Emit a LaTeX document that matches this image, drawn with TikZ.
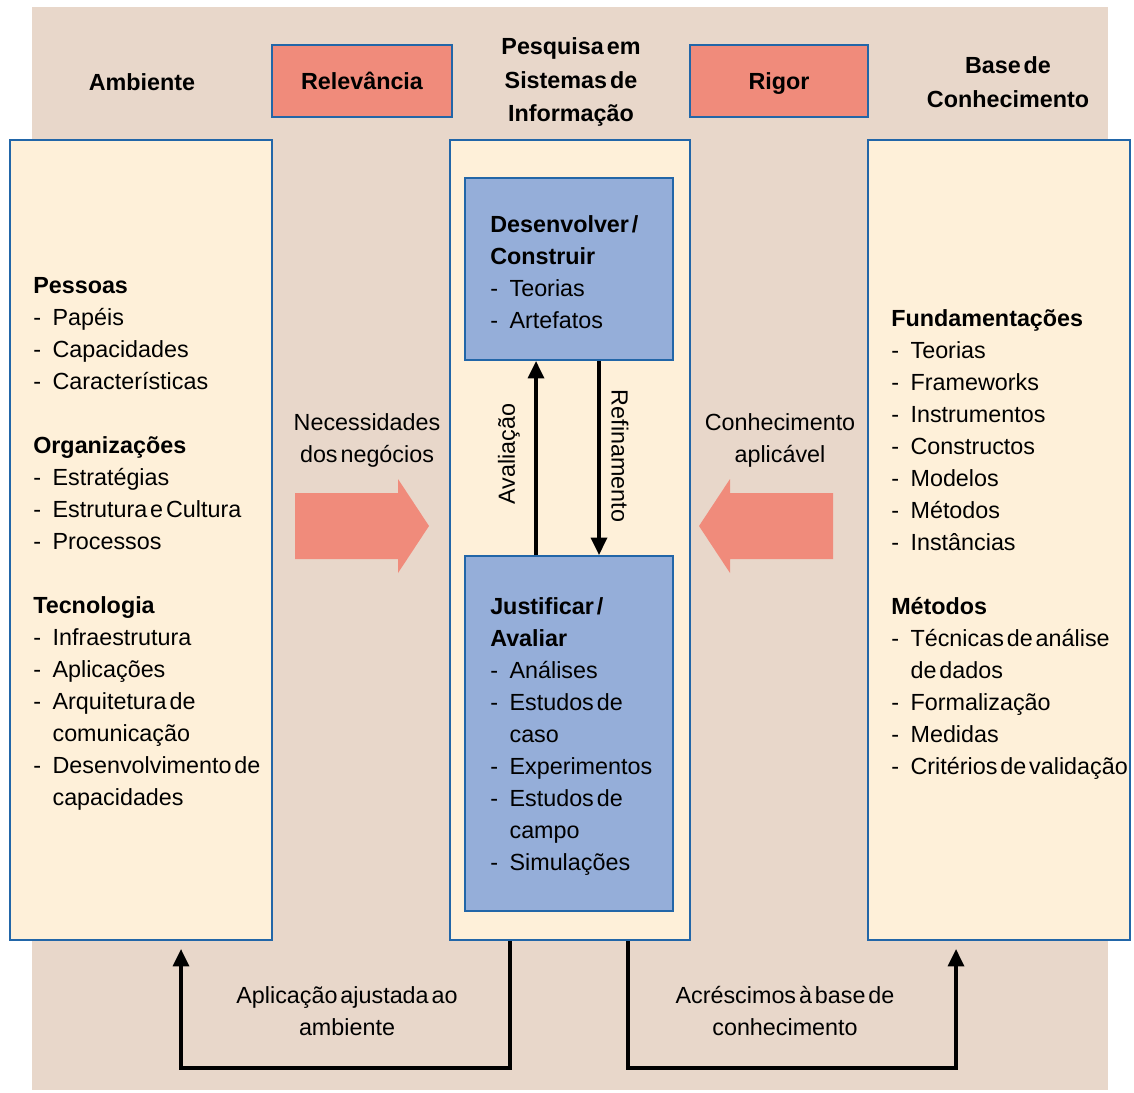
\documentclass[tikz,border=0pt]{standalone}
\usepackage{fontspec}
\setmainfont[WordSpace=0.45]{Liberation Sans}
\usetikzlibrary{arrows.meta}

\definecolor{fundo}{HTML}{E8D7CA}
\definecolor{creme}{HTML}{FEF0D9}
\definecolor{azul}{HTML}{95AED9}
\definecolor{borda}{HTML}{2266A8}
\definecolor{salmao}{HTML}{F08B7B}

\newcommand{\itm}[1]{\makebox[14.5pt][l]{-}#1}
\newcommand{\cnt}[1]{\hspace*{14.5pt}#1}

\begin{document}
\begin{tikzpicture}[x=0.75pt, y=-0.75pt,
    every node/.style={font=\fontsize{17.5}{24}\selectfont},
    painel/.style={draw=borda, line width=1.5pt, fill=creme, minimum width=196.5pt, minimum height=600pt, inner sep=0pt},
    bloco/.style={draw=borda, line width=1.5pt, fill=azul, minimum width=156pt, inner sep=0pt},
    selo/.style={draw=borda, line width=1.5pt, fill=salmao, minimum height=54pt, inner sep=0pt, text height=13pt, text depth=1pt, font=\fontsize{17.5}{24}\selectfont\bfseries},
    txt/.style={inner sep=0pt, align=left, anchor=north west},
    titulo/.style={inner sep=0pt, align=center, font=\fontsize{17.5}{25}\selectfont\bfseries},
    fluxo/.style={line width=2.5pt, -{Triangle[length=13pt,width=12pt]}}]

    \useasboundingbox (0,0) rectangle (1134,1092);
    \fill[fundo] (32,7) rectangle (1108,1090);

    % Titles
    \node[titulo] (ambtit) at (142,82) {Ambiente};
    \node[titulo] (pesqtit) at (571,82) {Pesquisa em\\Sistemas de\\Informação};
    \node[titulo] (basetit) at (1008,82) {Base de\\Conhecimento};
    \node[selo, minimum width=135pt] (relev) at (362,81) {Relevância};
    \node[selo, minimum width=133.5pt] (rigor) at (779,81) {Rigor};

    % Panels
    \node[painel] (amb) at (141,540) {};
    \node[painel, minimum width=180pt] (pesq) at (570,540) {};
    \node[painel] (base) at (999,540) {};
    \node[bloco, minimum height=136.5pt] (dev) at (569,269) {};
    \node[bloco, minimum height=266.25pt] (just) at (569,733.5) {};

    % Panel texts
    \node[txt] (ambtxt) at (33,277) {\textbf{Pessoas}\\ \itm{Papéis}\\ \itm{Capacidades}\\ \itm{Características}\\[24pt]
        \textbf{Organizações}\\ \itm{Estratégias}\\ \itm{Estrutura e Cultura}\\ \itm{Processos}\\[24pt]
        \textbf{Tecnologia}\\ \itm{Infraestrutura}\\ \itm{Aplicações}\\ \itm{Arquitetura de}\\ \cnt{comunicação}\\
        \itm{Desenvolvimento de}\\ \cnt{capacidades}};
    \node[txt] (basetxt) at (891,309) {\textbf{Fundamentações}\\ \itm{Teorias}\\ \itm{Frameworks}\\ \itm{Instrumentos}\\
        \itm{Constructos}\\ \itm{Modelos}\\ \itm{Métodos}\\ \itm{Instâncias}\\[24pt]
        \textbf{Métodos}\\ \itm{Técnicas de análise}\\ \cnt{de dados}\\ \itm{Formalização}\\ \itm{Medidas}\\ \itm{Critérios de validação}};
    \node[txt] (devtxt) at (490,215) {\textbf{Desenvolver /}\\ \textbf{Construir}\\ \itm{Teorias}\\ \itm{Artefatos}};
    \node[txt] (justtxt) at (490,597) {\textbf{Justificar /}\\ \textbf{Avaliar}\\ \itm{Análises}\\ \itm{Estudos de}\\ \cnt{caso}\\
        \itm{Experimentos}\\ \itm{Estudos de}\\ \cnt{campo}\\ \itm{Simulações}};

    % Big arrows
    \fill[salmao] (295,493) -- (398,493) -- (398,479) -- (429,526) -- (398,573) -- (398,559) -- (295,559) -- cycle;
    \fill[salmao] (833,493) -- (730,493) -- (730,479) -- (699,526) -- (730,573) -- (730,559) -- (833,559) -- cycle;
    \node[align=center, inner sep=0pt] (neces) at (367,440) {Necessidades\\dos negócios};
    \node[align=center, inner sep=0pt] (conhec) at (780,440) {Conhecimento\\aplicável};

    % Cycle
    \draw[fluxo] ([xshift=-24.75pt]just.north) -- ([xshift=-24.75pt]dev.south);
    \draw[fluxo] ([xshift=22.5pt]dev.south) -- ([xshift=22.5pt]just.north);
    \node[rotate=90, inner sep=0pt] (aval) at (509,454) {Avaliação};
    \node[rotate=-90, inner sep=0pt] (refin) at (620,456) {Refinamento};

    % Bottom loops
    \draw[fluxo] ([xshift=-45pt]pesq.south) -- ++(0,127) -| ([xshift=30pt,yshift=-6pt]amb.south);
    \draw[fluxo] ([xshift=43.5pt]pesq.south) -- ++(0,127) -| ([xshift=-32.25pt,yshift=-6pt]base.south);
    \node[align=center, inner sep=0pt] (aplic) at (347,1011) {Aplicação ajustada ao\\ambiente};
    \node[align=center, inner sep=0pt] (acresc) at (785,1011) {Acréscimos à base de\\conhecimento};
\end{tikzpicture}
\end{document}
